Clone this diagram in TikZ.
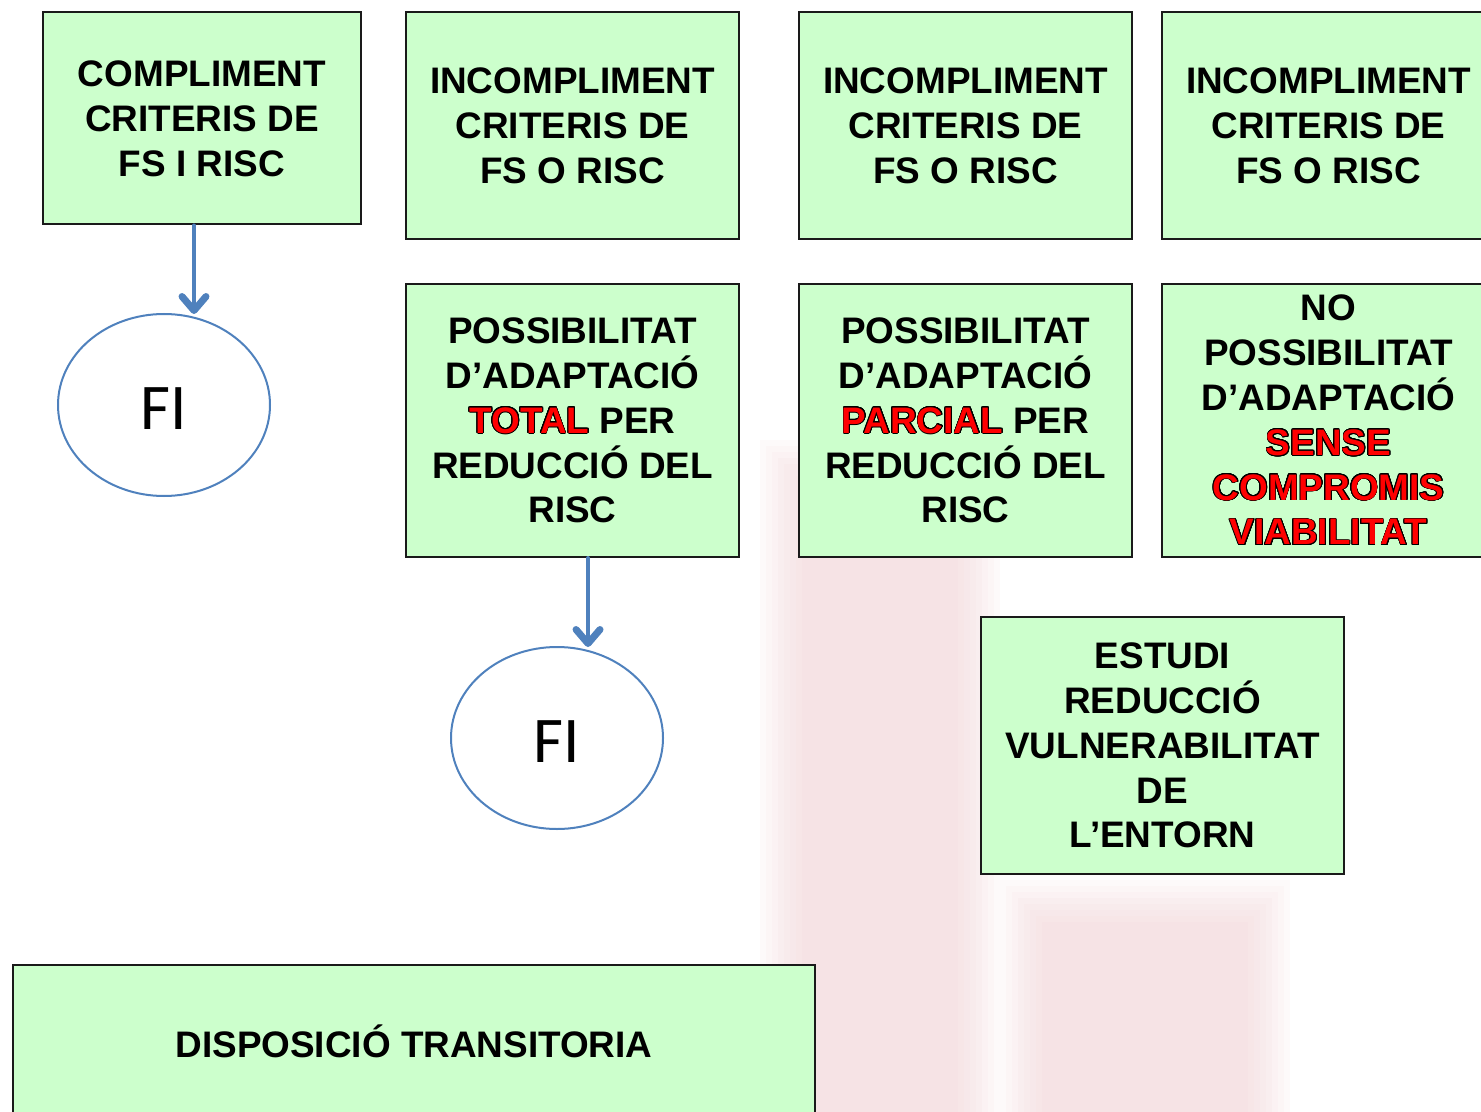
\documentclass[tikz,border=0pt]{standalone}
\usepackage{fontspec}
\setmainfont{Liberation Sans}
\newfontfamily\fifont{Carlito}
\usepackage[copies]{contour}
\usetikzlibrary{arrows.meta,shapes.geometric}
\contourlength{0.4pt}
\contournumber{24}
\definecolor{boxfill}{HTML}{CCFFCC}
\definecolor{boxline}{HTML}{1A1A1A}
\definecolor{arrowblue}{HTML}{4F81BD}
\definecolor{wmpink}{HTML}{EFCFD2}
\newcommand{\redout}[1]{\textcolor{red}{\contour{black}{#1}}}
\newcommand{\fitext}{\raisebox{-2pt}[\height][0pt]{FI}}
\tikzset{
  box/.style={draw=boxline, line width=1pt, fill=boxfill, rectangle, inner sep=0pt,
    align=center, font={\fontsize{18.45pt}{22.4pt}\selectfont\bfseries}},
  fiellipse/.style={draw=arrowblue, line width=1pt, fill=white, ellipse, inner sep=0pt,
    minimum width=106pt, minimum height=91pt, font={\fifont\fontsize{32.6pt}{36pt}\selectfont}},
  arr/.style={draw=arrowblue, line width=2pt, line cap=round, -{Straight Barb[length=7pt,width=12pt,line width=3.5pt 0 0,round]}},
  wm/.style={fill=wmpink, opacity=0.1}
}
\begin{document}
\begin{tikzpicture}[x=0.5pt,y=-0.5pt]
\useasboundingbox (0,0) rectangle (1481,1112);
\clip (0,0) rectangle (1481,1112);
% faint watermark bands (soft edges by layering)
\foreach \d in {0,6,...,42} {
  \fill[wm] (760+\d,440+\d) rectangle (1000-\d,1130);
  \fill[wm] (1000+\d,880+\d) rectangle (1290-\d,1130);
}
% boxes
\node[box, minimum width=159pt, minimum height=106pt] (b1) at (202,118.5)
  {COMPLIMENT\\CRITERIS DE\\FS I RISC};
\node[box, minimum width=166.5pt, minimum height=113.5pt] (b2) at (572.5,125.5)
  {INCOMPLIMENT\\CRITERIS DE\\FS O RISC};
\node[box, minimum width=166.5pt, minimum height=113.5pt] (b3) at (965.5,125.5)
  {INCOMPLIMENT\\CRITERIS DE\\FS O RISC};
\node[box, minimum width=166.5pt, minimum height=113.5pt] (b4) at (1328.5,125.5)
  {INCOMPLIMENT\\CRITERIS DE\\FS O RISC};
\node[box, minimum width=166.5pt, minimum height=136.5pt] (b5) at (572.5,420.5)
  {POSSIBILITAT\\D’ADAPTACIÓ\\\redout{TOTAL} PER\\REDUCCIÓ DEL\\RISC};
\node[box, minimum width=166.5pt, minimum height=136.5pt] (b6) at (965.5,420.5)
  {POSSIBILITAT\\D’ADAPTACIÓ\\\redout{PARCIAL} PER\\REDUCCIÓ DEL\\RISC};
\node[box, minimum width=166.5pt, minimum height=136.5pt] (b7) at (1328.5,420.5)
  {NO\\POSSIBILITAT\\D’ADAPTACIÓ\\\redout{SENSE}\\\redout{COMPROMIS}\\\redout{VIABILITAT}};
\node[box, minimum width=181.5pt, minimum height=128.5pt] (b8) at (1162.5,745.5)
  {ESTUDI\\REDUCCIÓ\\VULNERABILITAT\\DE\\L’ENTORN};
\node[box, minimum width=401pt, minimum height=76pt] (b9) at (414,1041)
  {DISPOSICIÓ TRANSITORIA};
% end ellipses
\node[fiellipse] (fi1) at (164,405) {\fitext};
\node[fiellipse] (fi2) at (557,738) {\fitext};
% arrows
\coordinate (t1) at (194,314);
\coordinate (t2) at (588,647);
\draw[arr] (b1.south -| t1) -- (t1);
\draw[arr] (b5.south -| t2) -- (t2);
\end{tikzpicture}
\end{document}
